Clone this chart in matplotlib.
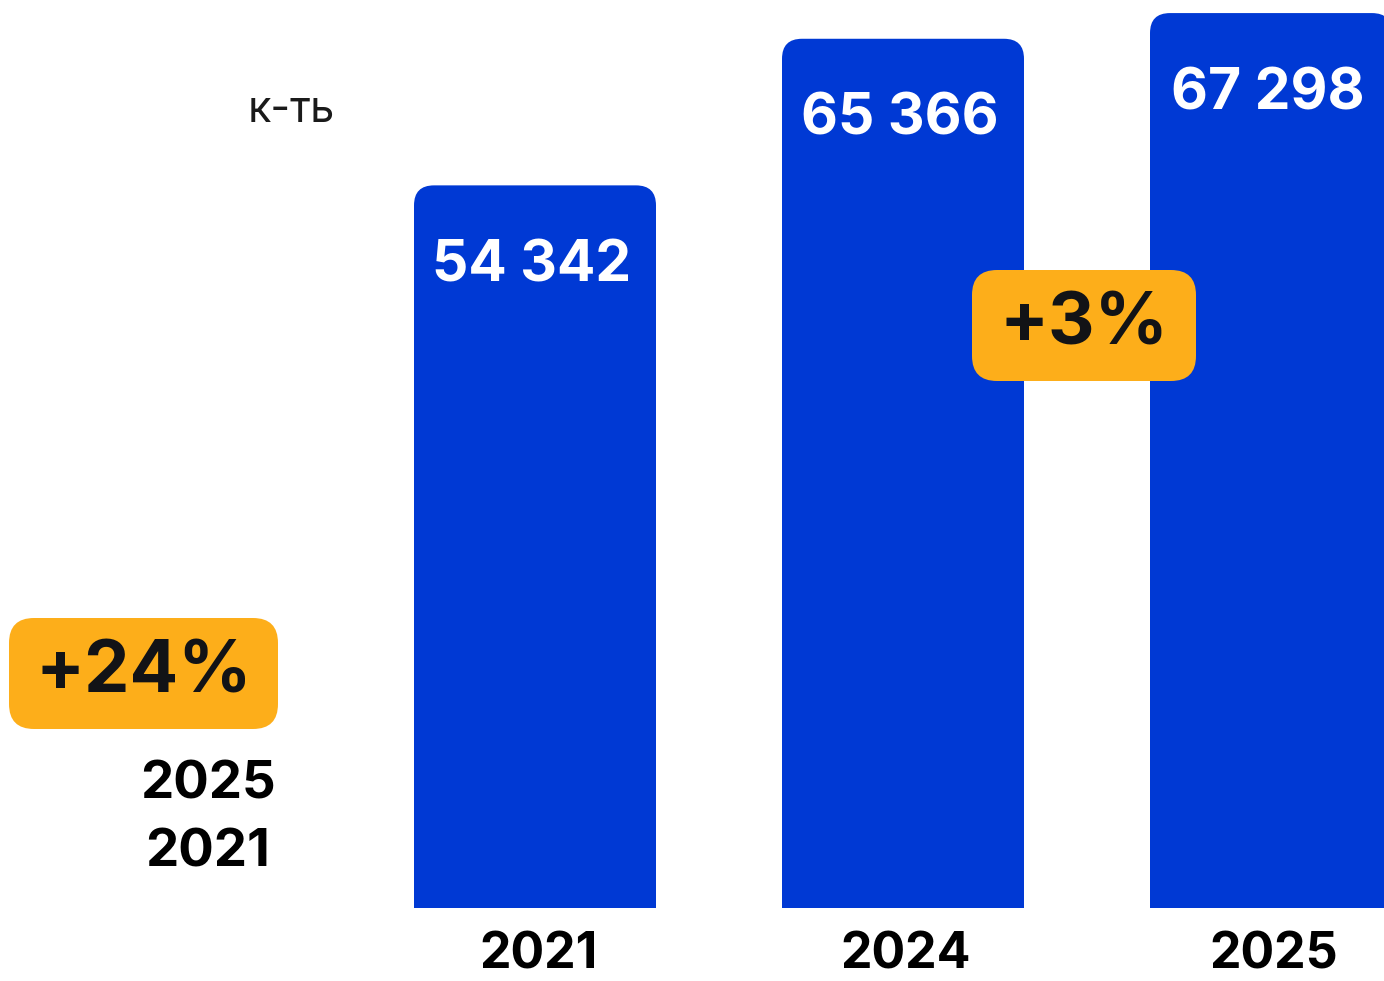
import numpy as np
import matplotlib
matplotlib.use("Agg")
import matplotlib.pyplot as plt
from matplotlib.patches import FancyBboxPatch

plt.rcParams["font.family"] = ["Inter", "DejaVu Sans"]

years = ["2021", "2024", "2025"]
values = [54342, 65366, 67298]
value_labels = ["54 342", "65 366", "67 298"]
growth_labels = ["+24%", "+3%"]
period_years = ["2025", "2021"]
unit_label = "к-ть"

BLUE = "#0039D4"
YELLOW = "#FDAE1A"
DARK = "#121316"

W, H = 1384, 981
fig = plt.figure(figsize=(W / 100, H / 100), dpi=100)
ax = fig.add_axes([0, 0, 1, 1])
ax.axis("off")

# data units per pixel
px_x = 1 / 368
px_y = 75.2
ax.set_xlim(-535 * px_x, (W - 535) * px_x)
ax.set_ylim(-(H - 908) * px_y, 908 * px_y)

bar_w = 242 * px_x
radius = 20 * px_x
x = np.arange(len(values))
for xi, v, lab, yr in zip(x, values, value_labels, years):
    # square bottom + rounded top
    ax.bar(xi, v * 0.5, width=bar_w, color=BLUE, linewidth=0)
    ax.add_patch(FancyBboxPatch((xi - bar_w / 2, 0), bar_w, v,
                                boxstyle=f"round,pad=0,rounding_size={radius}",
                                mutation_aspect=px_y / px_x,
                                fc=BLUE, ec="none"))
    ax.annotate(lab, (xi, v), xytext=(-3, -81), textcoords="offset pixels",
                ha="center", va="center", color="white", fontsize=41,
                fontweight="bold")
    ax.annotate(yr, (xi, 0), xytext=(3, -47), textcoords="offset pixels",
                ha="center", va="center", color="black", fontsize=36,
                fontweight="bold")


def fx(px):
    return px / W


def fy(py):
    return 1 - py / H


def badge(x0, y0, w, h, text):
    fig.patches.append(FancyBboxPatch(
        (fx(x0), fy(y0 + h)), w / W, h / H,
        boxstyle=f"round,pad=0,rounding_size={25 / W}",
        mutation_aspect=W / H, fc=YELLOW, ec="none",
        transform=fig.transFigure, figure=fig, zorder=5))
    fig.text(fx(x0 + w / 2), fy(y0 + h / 2), text, ha="center", va="center",
             color=DARK, fontsize=52, fontweight="bold", zorder=6)


badge(9, 618, 269, 111, growth_labels[0])
badge(972, 270, 224, 111, growth_labels[1])

fig.text(fx(208), fy(785), period_years[0], ha="center", va="center",
         color="black", fontsize=38, fontweight="bold")
fig.text(fx(208), fy(853), period_years[1], ha="center", va="center",
         color="black", fontsize=38, fontweight="bold")
fig.text(fx(291), fy(110), unit_label, ha="center", va="center",
         color="#1a1a1a", fontsize=31)

fig.savefig("out.png", dpi=100)
